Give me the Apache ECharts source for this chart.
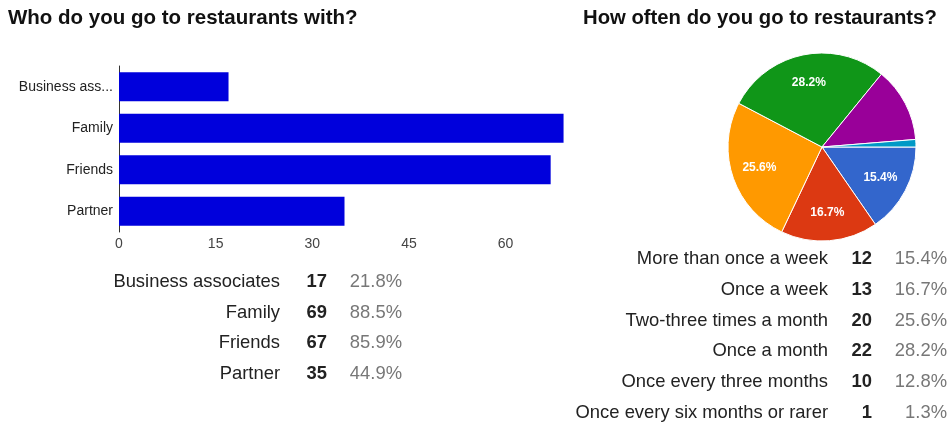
<!DOCTYPE html>
<html>
<head>
<meta charset="utf-8">
<script src="https://cdn.jsdelivr.net/npm/echarts@6/dist/echarts.min.js"></script>
<style>
  html, body { margin: 0; padding: 0; background: #fff; }
  #chart { width: 952px; height: 423px; }
</style>
</head>
<body>
<div id="chart"></div>
<script>
// Who do you go to restaurants with?
const companyTitle = 'Who do you go to restaurants with?';
const companyCategories = ['Business associates', 'Family', 'Friends', 'Partner'];
const companyCounts = [17, 69, 67, 35];
const companyPercents = ['21.8%', '88.5%', '85.9%', '44.9%'];
const companyTicks = [0, 15, 30, 45, 60];

// How often do you go to restaurants?
const freqTitle = 'How often do you go to restaurants?';
const freqCategories = [
  'More than once a week',
  'Once a week',
  'Two-three times a month',
  'Once a month',
  'Once every three months',
  'Once every six months or rarer'
];
const freqCounts = [12, 13, 20, 22, 10, 1];
const freqPercents = ['15.4%', '16.7%', '25.6%', '28.2%', '12.8%', '1.3%'];
const freqColors = ['#3366cc', '#dc3912', '#ff9900', '#109618', '#990099', '#0099c6'];

const FONT = 'Arial, "Liberation Sans", sans-serif';

const chart = echarts.init(document.getElementById('chart'), null, { renderer: 'canvas' });

// Summary table rows underneath each chart
function tableRows(labels, counts, percents, cols, y0, step) {
  const out = [];
  labels.forEach((lab, i) => {
    const y = y0 + i * step;
    out.push({ type: 'text', x: cols[0], y: y, silent: true,
      style: { text: lab, align: 'right', verticalAlign: 'middle', fill: '#222', font: '18.4px ' + FONT } });
    out.push({ type: 'text', x: cols[1], y: y, silent: true,
      style: { text: String(counts[i]), align: 'right', verticalAlign: 'middle', fill: '#222', font: 'bold 18.4px ' + FONT } });
    out.push({ type: 'text', x: cols[2], y: y, silent: true,
      style: { text: percents[i], align: 'right', verticalAlign: 'middle', fill: '#777', font: '18.4px ' + FONT } });
  });
  return out;
}

const graphics = [
  { type: 'text', x: 8, y: 18, silent: true,
    style: { text: companyTitle, align: 'left', verticalAlign: 'middle', fill: '#111', font: 'bold 20.5px ' + FONT } },
  { type: 'text', x: 583, y: 18, silent: true,
    style: { text: freqTitle, align: 'left', verticalAlign: 'middle', fill: '#111', font: 'bold 20.3px ' + FONT } }
].concat(
  tableRows(companyCategories, companyCounts, companyPercents, [280, 327, 402], 282, 30.6),
  tableRows(freqCategories, freqCounts, freqPercents, [828, 872, 947], 259, 30.8)
);

const pieData = freqCategories.map((name, i) => ({
  name: name,
  value: freqCounts[i],
  itemStyle: { color: freqColors[i] }
}));

const option = {
  animation: false,
  backgroundColor: '#ffffff',
  textStyle: { fontFamily: FONT },
  grid: { left: 119, top: 66, width: 451, height: 166, containLabel: false },
  xAxis: {
    type: 'value',
    min: companyTicks[0],
    max: 70,
    interval: companyTicks[1] - companyTicks[0],
    axisLine: { show: false },
    axisTick: { show: false },
    splitLine: { show: false },
    axisLabel: {
      color: '#444', fontSize: 14, margin: 5, showMaxLabel: false,
      formatter: v => (companyTicks.indexOf(v) >= 0 ? String(v) : '')
    }
  },
  yAxis: {
    type: 'category',
    inverse: true,
    data: companyCategories,
    axisLine: { show: true, lineStyle: { color: '#333', width: 1 } },
    axisTick: { show: false },
    axisLabel: {
      color: '#222', fontSize: 14, margin: 6,
      width: 99, overflow: 'truncate', ellipsis: '...'
    }
  },
  series: [
    {
      type: 'bar',
      data: companyCounts,
      barCategoryGap: '30%',
      itemStyle: { color: '#0000dc' },
      emphasis: { disabled: true },
      silent: true
    },
    {
      type: 'pie',
      center: [822, 147],
      radius: 94,
      startAngle: 0,
      clockwise: true,
      avoidLabelOverlap: false,
      label: { show: false },
      labelLine: { show: false },
      itemStyle: { borderColor: '#ffffff', borderWidth: 1 },
      emphasis: { disabled: true },
      silent: true,
      data: pieData
    },
    {
      // percentage labels placed part-way out along each slice
      type: 'pie',
      center: [822, 147],
      radius: [32, 94],
      startAngle: 0,
      clockwise: true,
      avoidLabelOverlap: false,
      itemStyle: { color: 'rgba(0,0,0,0)' },
      labelLine: { show: false },
      label: {
        show: true,
        position: 'inside',
        color: '#fff',
        fontSize: 12,
        fontWeight: 'bold',
        fontFamily: FONT,
        formatter: p => (p.percent >= 15 ? p.percent.toFixed(1) + '%' : '')
      },
      emphasis: { disabled: true },
      silent: true,
      data: freqCategories.map((name, i) => ({ name: name, value: freqCounts[i] }))
    }
  ],
  graphic: graphics
};

chart.setOption(option);
</script>
</body>
</html>
